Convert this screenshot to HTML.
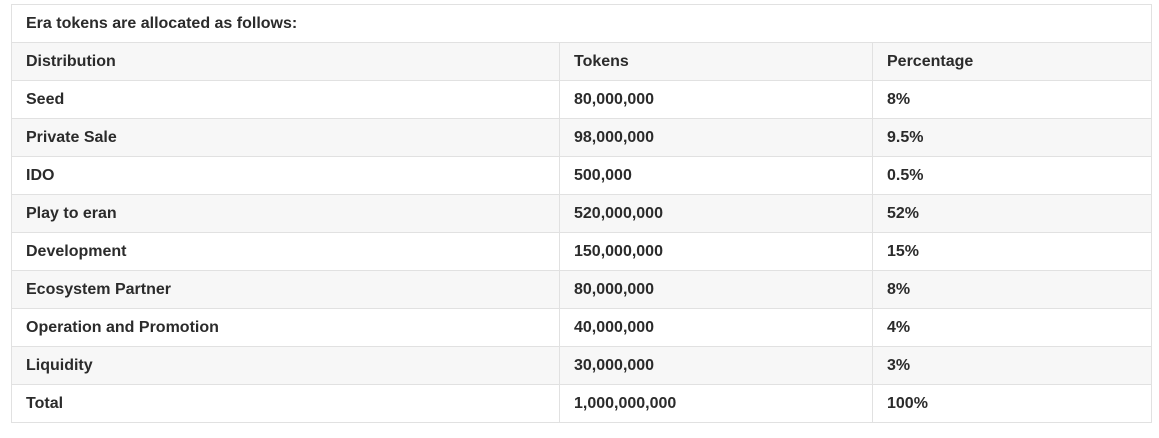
<!DOCTYPE html>
<html><head><meta charset="utf-8"><style>
body{margin:0;width:1159px;height:438px;background:#fff;font-family:"Liberation Sans",sans-serif;position:relative;overflow:hidden}
table{position:absolute;left:11px;top:4px;width:1140px;border-collapse:collapse;table-layout:fixed}
td{border:1px solid #e1e1e1;height:38px;padding:0 0 0 14px;font-weight:bold;font-size:16px;color:#2b2b2b;box-sizing:border-box}
tr.g td{background:#f7f7f7}
</style></head><body>
<table>
<colgroup><col style="width:548px"><col style="width:313px"><col style="width:279px"></colgroup>
<tr><td colspan="3">Era tokens are allocated as follows:</td></tr>
<tr class="g"><td>Distribution</td><td>Tokens</td><td>Percentage</td></tr>
<tr><td>Seed</td><td>80,000,000</td><td>8%</td></tr>
<tr class="g"><td>Private Sale</td><td>98,000,000</td><td>9.5%</td></tr>
<tr><td>IDO</td><td>500,000</td><td>0.5%</td></tr>
<tr class="g"><td>Play to eran</td><td>520,000,000</td><td>52%</td></tr>
<tr><td>Development</td><td>150,000,000</td><td>15%</td></tr>
<tr class="g"><td>Ecosystem Partner</td><td>80,000,000</td><td>8%</td></tr>
<tr><td>Operation and Promotion</td><td>40,000,000</td><td>4%</td></tr>
<tr class="g"><td>Liquidity</td><td>30,000,000</td><td>3%</td></tr>
<tr><td>Total</td><td>1,000,000,000</td><td>100%</td></tr>
</table>
</body></html>
